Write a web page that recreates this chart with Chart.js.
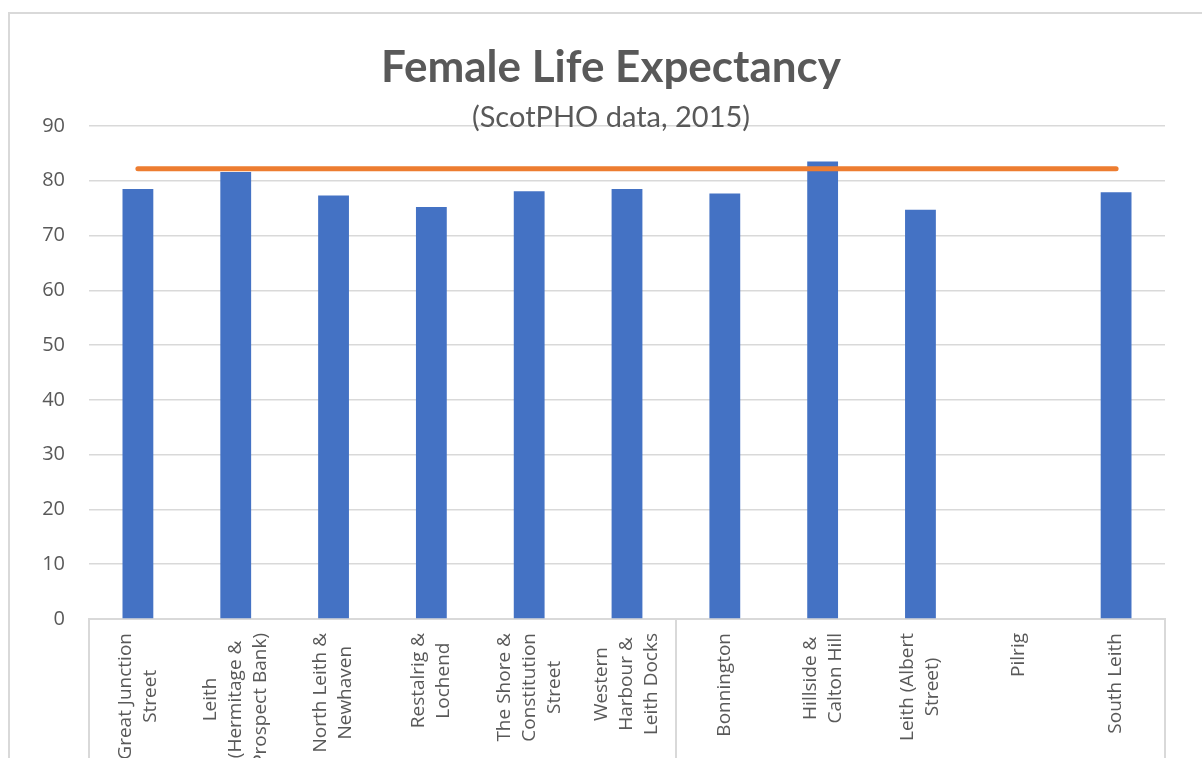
<!DOCTYPE html>
<html>
<head>
<meta charset="utf-8">
<script src="https://cdn.jsdelivr.net/npm/chart.js@4"></script>
<style>
  html, body { margin: 0; padding: 0; background: #ffffff; }
  canvas { display: block; }
</style>
</head>
<body>
<canvas id="c" width="1202" height="758"></canvas>
<script>
// ---- data ----
const categories = [
  ["Great Junction", "Street"],
  ["Leith", "(Hermitage &", "Prospect Bank)"],
  ["North Leith &", "Newhaven"],
  ["Restalrig &", "Lochend"],
  ["The Shore &", "Constitution", "Street"],
  ["Western", "Harbour &", "Leith Docks"],
  ["Bonnington"],
  ["Hillside &", "Calton Hill"],
  ["Leith (Albert", "Street)"],
  ["Pilrig"],
  ["South Leith"]
];
const femaleLifeExpectancy = [78.5, 81.6, 77.3, 75.2, 78.1, 78.5, 77.7, 83.5, 74.7, null, 77.9];
const scotlandAverage = [82.2, 82.2, 82.2, 82.2, 82.2, 82.2, 82.2, 82.2, 82.2, 82.2, 82.2];
const yTicks = [0, 10, 20, 30, 40, 50, 60, 70, 80, 90];
const groupBreaks = [0, 6];   // category-group separators (plus the right edge)
const titleText = "Female Life Expectancy";
const subtitleText = "(ScotPHO data, 2015)";

const GREY = '#595959';
const GRID = '#d9d9d9';

const frame = {
  id: 'frame',
  beforeDraw(chart) {
    const c = chart.ctx;
    c.save();
    c.fillStyle = '#ffffff';
    c.fillRect(0, 0, chart.width, chart.height);
    c.strokeStyle = GRID;
    c.lineWidth = 2;
    c.strokeRect(9, 13, chart.width + 20, chart.height + 20);
    c.restore();
  }
};

const centredLabels = {
  id: 'centredLabels',
  afterDraw(chart) {
    const sc = chart.scales.x;
    const c = chart.ctx;
    const fontSize = 19, lh = 25, pad = 14;
    c.save();
    c.font = fontSize + 'px "Open Sans"';
    c.fillStyle = GREY;
    c.textAlign = 'center';
    c.textBaseline = 'middle';
    categories.forEach((lines, i) => {
      const xc = sc.getPixelForTick(i);
      let w = 0;
      lines.forEach(l => { w = Math.max(w, c.measureText(l).width); });
      const cy = sc.top + pad + w / 2;
      lines.forEach((l, j) => {
        const lx = xc + (j - (lines.length - 1) / 2) * lh;
        c.save();
        c.translate(lx, cy);
        c.rotate(-Math.PI / 2);
        c.fillText(l, 0, 0);
        c.restore();
      });
    });
    c.restore();
  }
};

new Chart(document.getElementById('c'), {
  data: {
    labels: categories,
    datasets: [
      {
        type: 'line',
        label: 'Scotland',
        data: scotlandAverage,
        borderColor: '#ED7D31',
        borderWidth: 5,
        borderCapStyle: 'round',
        pointRadius: 0,
        fill: false,
        order: 0
      },
      {
        type: 'bar',
        label: 'Female Life Expectancy',
        data: femaleLifeExpectancy,
        backgroundColor: '#4472C4',
        categoryPercentage: 0.315,
        barPercentage: 1,
        order: 1
      }
    ]
  },
  options: {
    responsive: false,
    animation: false,
    devicePixelRatio: 1,
    layout: { padding: { left: 20, right: 0, top: 0, bottom: 0 } },
    plugins: {
      legend: { display: false },
      tooltip: { enabled: false },
      title: {
        display: true,
        text: titleText,
        color: GREY,
        font: { family: 'Lato', size: 44, weight: 'bold', lineHeight: 1.2 },
        padding: { top: 41, bottom: 0 }
      },
      subtitle: {
        display: true,
        text: subtitleText,
        color: GREY,
        font: { family: 'Lato', size: 29, weight: 'normal', lineHeight: 1.2 },
        padding: { top: 6.8, bottom: -9.4 }
      }
    },
    scales: {
      x: {
        offset: true,
        ticks: { display: false },
        grid: {
          display: true,
          offset: true,
          drawOnChartArea: false,
          drawTicks: true,
          tickLength: 139,
          lineWidth: 2,
          color: ctx => (ctx.type === 'scale' || groupBreaks.includes(ctx.index)) ? GRID : 'rgba(0,0,0,0)'
        },
        border: { display: true, color: GRID, width: 2 },
        afterFit: s => { s.height = 139; }
      },
      y: {
        min: yTicks[0],
        max: yTicks[yTicks.length - 1],
        afterBuildTicks: s => { s.ticks = yTicks.map(v => ({ value: v })); },
        ticks: {
          color: GREY,
          font: { family: 'Open Sans', size: 20 },
          padding: 24
        },
        grid: { color: GRID, lineWidth: 1.5, drawTicks: false },
        border: { display: false },
        afterFit: s => { s.width = 69; }
      },
      rightMargin: {
        type: 'linear',
        position: 'right',
        display: true,
        ticks: { display: false },
        grid: { display: false, drawTicks: false },
        border: { display: false },
        afterFit: s => { s.width = 37; }
      }
    }
  },
  plugins: [frame, centredLabels]
});
</script>
</body>
</html>
